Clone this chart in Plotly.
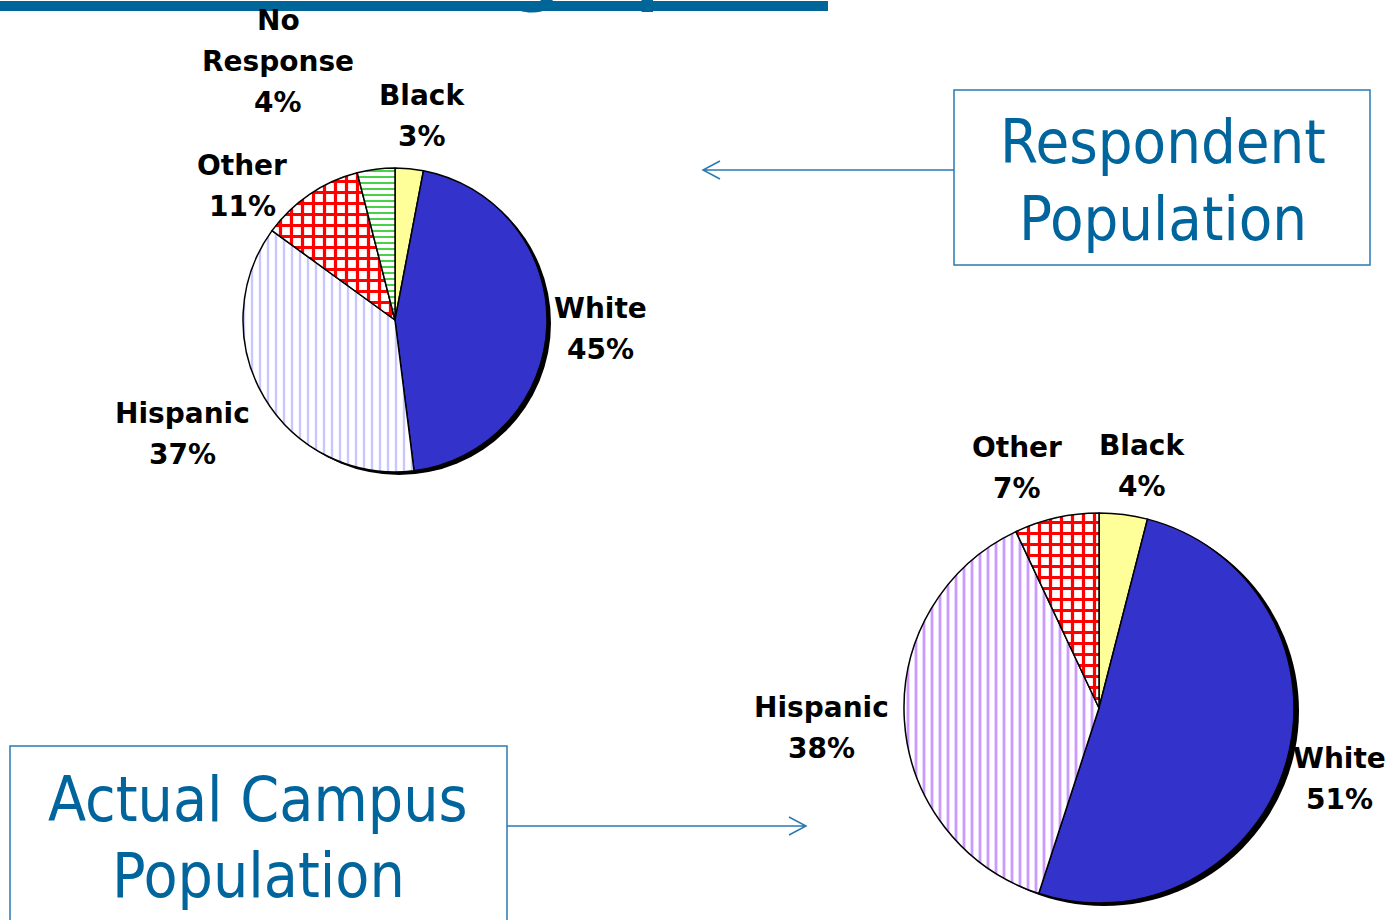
import plotly.graph_objects as go

W, H = 1388, 920
OFF = 0

# ---- data ----
resp_labels = ["Black", "White", "Hispanic", "Other", "No Response"]
resp_values = [3, 45, 37, 11, 4]
camp_labels = ["Black", "White", "Hispanic", "Other"]
camp_values = [4, 51, 38, 7]
box_texts = [["Respondent", "Population"], ["Actual Campus", "Population"]]
title_text = "Demographics"

# ---- styles ----
resp_styles = {
    "Black": dict(bg="#ffff99", fg="#ffff99", shape="", size=8, sol=0.3),
    "White": dict(bg="#3333cc", fg="#3333cc", shape="", size=8, sol=0.3),
    "Hispanic": dict(bg="#ffffff", fg="#c8c8ff", shape="|", size=8, sol=0.3),
    "Other": dict(bg="#ffffff", fg="#ff0000", shape="+", size=11, sol=0.5),
    "No Response": dict(bg="#ffffff", fg="#33cc33", shape="-", size=6, sol=0.3),
}
camp_styles = {
    "Black": dict(bg="#ffff99", fg="#ffff99", shape="", size=8, sol=0.3),
    "White": dict(bg="#3333cc", fg="#3333cc", shape="", size=8, sol=0.3),
    "Hispanic": dict(bg="#ffffff", fg="#cc99ff", shape="|", size=8, sol=0.35),
    "Other": dict(bg="#ffffff", fg="#ff0000", shape="+", size=11, sol=0.5),
}
# label anchor: (center x px, first-line baseline y px)
resp_label_pos = {"Black": (422, 105), "White": (600, 318), "Hispanic": (182, 423),
                  "Other": (242, 175), "No Response": (278, 30)}
camp_label_pos = {"Black": (1142, 455), "White": (1339, 768), "Hispanic": (822, 717),
                  "Other": (1017, 457)}

BLUE_TXT = "#00659c"
BLUE_LINE = "#2a7ab2"
BAR_BLUE = "#006699"
LABEL_SIZE = 28
LINE_GAP = 41


def px(x):
    return (x - OFF) / W


def py(y):
    return 1 - (y - OFF) / H


def pie_domain(cx, cy, r):
    return dict(x=[px(cx - r), px(cx + r)], y=[py(cy + r), py(cy - r)])


def pie_trace(labels, values, styles, cx, cy, r):
    return go.Pie(
        labels=labels, values=values, sort=False, direction="clockwise", rotation=0,
        domain=pie_domain(cx, cy, r), textinfo="none", hoverinfo="label+percent",
        showlegend=False,
        marker=dict(
            colors=[styles[l]["bg"] for l in labels],
            line=dict(color="black", width=1.5),
            pattern=dict(
                shape=[styles[l]["shape"] for l in labels],
                fgcolor=[styles[l]["fg"] for l in labels],
                bgcolor=[styles[l]["bg"] for l in labels],
                size=[styles[l]["size"] for l in labels],
                solidity=[styles[l]["sol"] for l in labels],
                fillmode="replace",
            ),
        ),
    )


def shadow_trace(cx, cy, r):
    return go.Pie(labels=["shadow"], values=[1], sort=False, domain=pie_domain(cx, cy, r),
                  textinfo="none", hoverinfo="skip", showlegend=False,
                  marker=dict(colors=["black"], line=dict(width=0)))


P1 = (395, 320, 152)
P2 = (1099, 708, 195)

fig = go.Figure()
fig.add_trace(shadow_trace(P1[0] + 4, P1[1] + 3, P1[2]))
fig.add_trace(pie_trace(resp_labels, resp_values, resp_styles, *P1))
fig.add_trace(shadow_trace(P2[0] + 5, P2[1] + 3, P2[2]))
fig.add_trace(pie_trace(camp_labels, camp_values, camp_styles, *P2))

annotations = []


def add_text(txt, x, baseline, size, family, color, shift=0.346):
    annotations.append(dict(
        text=txt, x=px(x), y=py(baseline - shift * size), xref="paper", yref="paper",
        xanchor="center", yanchor="middle", showarrow=False,
        font=dict(size=size, family=family, color=color)))


for labels, values, pos in [(resp_labels, resp_values, resp_label_pos),
                            (camp_labels, camp_values, camp_label_pos)]:
    for lab, val in zip(labels, values):
        x, b = pos[lab]
        lines = lab.split(" ") + [f"{val}%"]
        for i, ln in enumerate(lines):
            add_text(f"<b>{ln}</b>", x, b + i * LINE_GAP, LABEL_SIZE, "DejaVu Sans", "black")

# box texts
add_text(box_texts[0][0], 1163, 163, 61, "DejaVu Sans Condensed", BLUE_TXT)
add_text(box_texts[0][1], 1163, 240, 61, "DejaVu Sans Condensed", BLUE_TXT)
add_text(box_texts[1][0], 258, 821, 62, "DejaVu Sans Condensed", BLUE_TXT)
add_text(box_texts[1][1], 258, 897, 62, "DejaVu Sans Condensed", BLUE_TXT)

# clipped title (only descenders visible below the top edge)
annotations.append(dict(
    text=f"<b>{title_text}</b>", x=px(296), y=py(16), xref="paper", yref="paper",
    xanchor="left", yanchor="bottom", showarrow=False,
    font=dict(size=66, family="DejaVu Sans", color=BAR_BLUE)))


def P(x, y):
    return f"{px(x):.5f},{py(y):.5f}"


shapes = [
    dict(type="rect", xref="paper", yref="paper", x0=px(-10), x1=px(828), y0=py(11), y1=py(1),
         fillcolor=BAR_BLUE, line=dict(width=0), layer="above"),
    dict(type="rect", xref="paper", yref="paper", x0=px(954), x1=px(1370), y0=py(265), y1=py(90),
         line=dict(color=BLUE_LINE, width=1.5)),
    dict(type="rect", xref="paper", yref="paper", x0=px(10), x1=px(507), y0=py(935), y1=py(746),
         line=dict(color=BLUE_LINE, width=1.5)),
    dict(type="path", xref="paper", yref="paper",
         path=f"M{P(954,170)} L{P(703,170)} M{P(720,161)} L{P(703,170)} L{P(720,179)}",
         line=dict(color=BLUE_LINE, width=1.5)),
    dict(type="path", xref="paper", yref="paper",
         path=f"M{P(507,826)} L{P(806,826)} M{P(789,817)} L{P(806,826)} L{P(789,835)}",
         line=dict(color=BLUE_LINE, width=1.5)),
]

fig.update_layout(
    width=W, height=H, margin=dict(l=0, r=0, t=0, b=0),
    paper_bgcolor="white", plot_bgcolor="white",
    showlegend=False, annotations=annotations, shapes=shapes,
)

fig.write_html("out.html", config={"displayModeBar": False},
               post_script="document.body.style.margin='0px';")
